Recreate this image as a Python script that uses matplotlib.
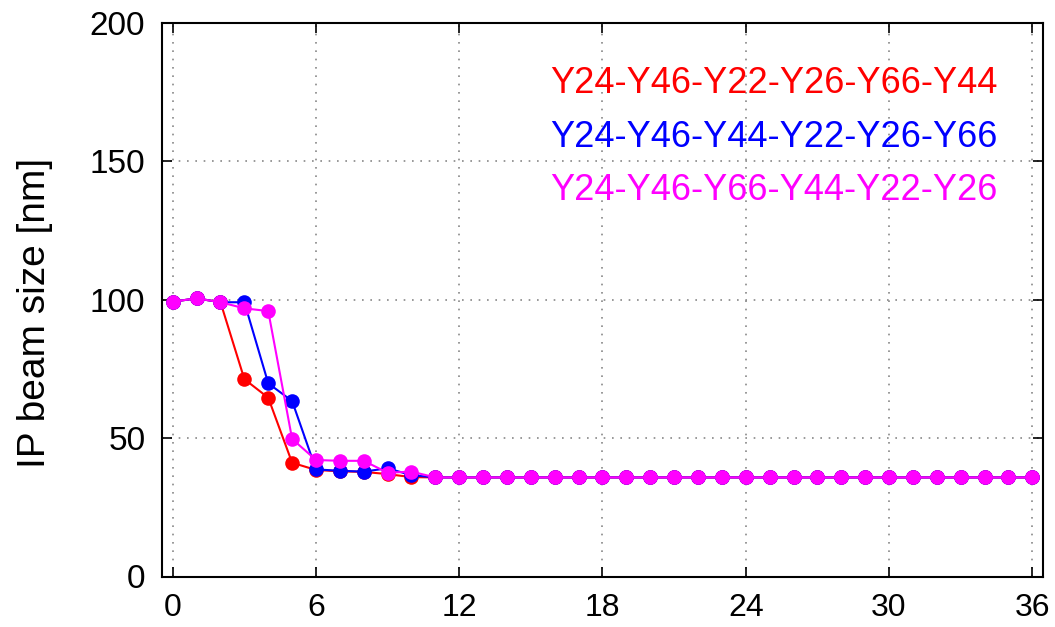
import matplotlib
matplotlib.use("Agg")
import matplotlib.pyplot as plt
import numpy as np

plt.rcParams['font.family'] = ['Liberation Sans', 'DejaVu Sans']

iterations = list(range(37))

labels = [
    "Y24-Y46-Y22-Y26-Y66-Y44",
    "Y24-Y46-Y44-Y22-Y26-Y66",
    "Y24-Y46-Y66-Y44-Y22-Y26",
]
colors = ["#ff0000", "#0000ff", "#ff00ff"]

tail = [35.8] * 26

beam_red = [99.3, 100.5, 99.1, 71.3, 64.6, 41.1, 38.5, 38.0, 37.8, 37.0, 35.9] + tail
beam_blue = [99.3, 100.5, 99.1, 99.1, 69.8, 63.4, 38.7, 38.2, 37.9, 39.1, 36.6] + tail
beam_magenta = [99.3, 100.5, 99.1, 96.9, 95.9, 49.7, 42.1, 41.8, 41.8, 37.5, 37.9] + tail

series = [beam_red, beam_blue, beam_magenta]

fig = plt.figure(figsize=(10.55, 6.27), dpi=100)
ax = fig.add_axes([162 / 1055, 1 - 576.5 / 627, 881 / 1055, 553.5 / 627])

for vals, c in zip(series, colors):
    ax.plot(iterations, vals, color=c, lw=1.5, marker='o', markersize=10.5,
            markeredgewidth=0, zorder=3)

ax.set_xlim(-0.45, 36.45)
ax.set_ylim(0, 200)
ax.set_xticks([0, 6, 12, 18, 24, 30, 36])
ax.set_yticks([0, 50, 100, 150, 200])

ax.grid(True, color='#888888', linestyle=(0, (1, 4)), linewidth=1.2)
ax.tick_params(direction='in', length=7, width=1.2, top=True, right=True,
               labelsize=24, pad=12, colors='black')
ax.tick_params(axis='x', pad=12, labelsize=23)
for s in ax.spines.values():
    s.set_linewidth(1.5)

ax.set_ylabel("IP beam size [nm]", fontsize=28)
ax.yaxis.set_label_coords(-0.1237, 0.476)

text_y = [0.8735, 0.776, 0.680]
for lab, c, ty in zip(labels, colors, text_y):
    ax.text(0.948, ty, lab, color=c, fontsize=26, ha='right', va='baseline',
            transform=ax.transAxes)

fig.savefig("out.png", dpi=100)
